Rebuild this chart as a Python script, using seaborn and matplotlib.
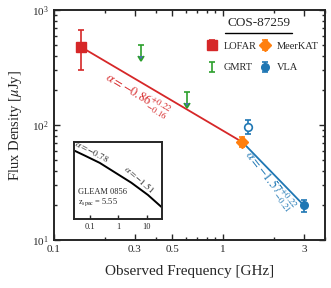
import numpy as np
import matplotlib
matplotlib.use("Agg")
from matplotlib import pyplot as plt
import seaborn as sns
import pandas as pd

# measured points
lofar_nu, lofar_s, lofar_lo, lofar_hi = [0.144], [480], [180], [190]
gmrt_nu, gmrt_lim, gmrt_tip = [0.325, 0.61], [500, 195], [400, 155]
meerkat_nu, meerkat_s, meerkat_err = [1.3], [71], [7]
vla_nu, vla_s, vla_err = [3.0], [20], [2.5]
vla_open_nu, vla_open_s, vla_open_err = [1.4], [97], [13]

# fitted power laws
red_nu, red_s = [0.144, 1.3], [480, 71]
blue_nu, blue_s = [1.3, 3.0], [71, 20]

# inset model spectrum (GLEAM 0856), arbitrary units
gleam_nu = [0.03, 0.067, 0.224, 0.753, 2.9, 11.1, 32.8]
gleam_s = [650, 355, 140, 42, 11, 2.3, 0.5]

xticks = [0.1, 0.3, 0.5, 1, 3]
xticklabels = ["0.1", "0.3", "0.5", "1", "3"]

sns.set_theme(style="ticks")
plt.rcParams["font.family"] = ["Liberation Serif", "DejaVu Serif"]
plt.rcParams["mathtext.fontset"] = "stix"

red, orange, green, blue = "#d62728", "#ff7f0e", "#2ca02c", "#1f77b4"

fig = plt.figure(figsize=(3.31, 2.88), dpi=100)
ax = fig.add_axes([0.163, 0.1667, 0.819, 0.798])

sns.lineplot(x=red_nu, y=red_s, color=red, lw=1.3, ax=ax)
sns.lineplot(x=blue_nu, y=blue_s, color=blue, lw=1.3, ax=ax)

eb = dict(capsize=2.5, elinewidth=1.2, capthick=1.2)
h_lofar = ax.errorbar(lofar_nu, lofar_s, yerr=[lofar_lo, lofar_hi], fmt="s", color=red,
                      ms=7, label="LOFAR", zorder=5, **eb)
gm_err = [np.array(gmrt_lim) - np.array(gmrt_tip), np.zeros(len(gmrt_lim))]
h_gmrt = ax.errorbar(gmrt_nu, gmrt_lim, yerr=gm_err, uplims=True, fmt="none", ecolor=green,
                     label="GMRT", zorder=5, **eb)
h_meer = ax.errorbar(meerkat_nu, meerkat_s, yerr=meerkat_err, fmt="D", color=orange,
                     ms=6, label="MeerKAT", zorder=6, **eb)
h_vla = ax.errorbar(vla_nu, vla_s, yerr=vla_err, fmt="o", color=blue,
                    ms=5.5, label="VLA", zorder=6, **eb)
ax.errorbar(vla_open_nu, vla_open_s, yerr=vla_open_err, fmt="o", color=blue, mfc="white",
            mew=1.2, ms=5.5, zorder=6, **eb)

ax.set_xscale("log")
ax.set_yscale("log")
ax.set_xlim(0.1, 4.0)
ax.set_ylim(10, 1000)
ax.set_xticks(xticks)
ax.set_xticklabels(xticklabels)
ax.tick_params(which="both", direction="in", top=True, right=True, labelsize=8, width=1)
ax.tick_params(which="major", length=4)
ax.tick_params(which="minor", length=2, labelbottom=False)
for s in ax.spines.values():
    s.set_linewidth(1.4)
ax.set_xlabel("Observed Frequency [GHz]", fontsize=11, labelpad=8)
ax.set_ylabel(r"Flux Density [$\mu$Jy]", fontsize=10.5, labelpad=6)

ax.text(0.31, 182, r"$\alpha = -0.86^{+0.22}_{-0.16}$", color=red, fontsize=9,
        rotation=-31, ha="center", va="center", rotation_mode="anchor")
ax.text(1.9, 32.6, r"$\alpha = -1.57^{+0.22}_{-0.21}$", color=blue, fontsize=9,
        rotation=-52, ha="center", va="center", rotation_mode="anchor")

ax.text(0.757, 0.943, "COS-87259", transform=ax.transAxes, ha="center", va="center", fontsize=9.5)
ax.plot([0.631, 0.878], [0.9, 0.9], transform=ax.transAxes, color="black", lw=1)
ax.legend(handles=[h_lofar, h_gmrt, h_meer, h_vla], ncol=2, loc="upper right",
          bbox_to_anchor=(1.01, 0.905), frameon=False, fontsize=7.5,
          handlelength=1.0, handletextpad=0.6, columnspacing=0.3, labelspacing=1.2)

# inset
ins = fig.add_axes([0.2236, 0.2396, 0.266, 0.267])
sns.lineplot(x=gleam_nu, y=gleam_s, color="black", lw=1.4, ax=ins)
ins.set_xscale("log")
ins.set_yscale("log")
ins.set_xlim(0.028, 35)
ins.set_ylim(0.105, 2000)
ins.set_xticks([0.1, 1, 10])
ins.set_xticklabels(["0.1", "1", "10"])
ins.set_yticks([])
ins.minorticks_off()
ins.tick_params(axis="x", direction="in", length=3, width=1, labelsize=6, pad=3)
ins.tick_params(axis="y", left=False, labelleft=False)
for s in ins.spines.values():
    s.set_linewidth(1.4)
ins.text(0.205, 0.88, r"$\alpha = -0.78$", transform=ins.transAxes, fontsize=6.5,
         rotation=-28, ha="center", va="center", rotation_mode="anchor")
ins.text(0.74, 0.52, r"$\alpha = -1.51$", transform=ins.transAxes, fontsize=6.5,
         rotation=-41, ha="center", va="center", rotation_mode="anchor")
ins.text(0.05, 0.35, "GLEAM 0856", transform=ins.transAxes, fontsize=6, va="center")
ins.text(0.05, 0.22, r"z$_{\rm spec}$ = 5.55", transform=ins.transAxes, fontsize=6, va="center")

fig.savefig("out.png", dpi=100)
